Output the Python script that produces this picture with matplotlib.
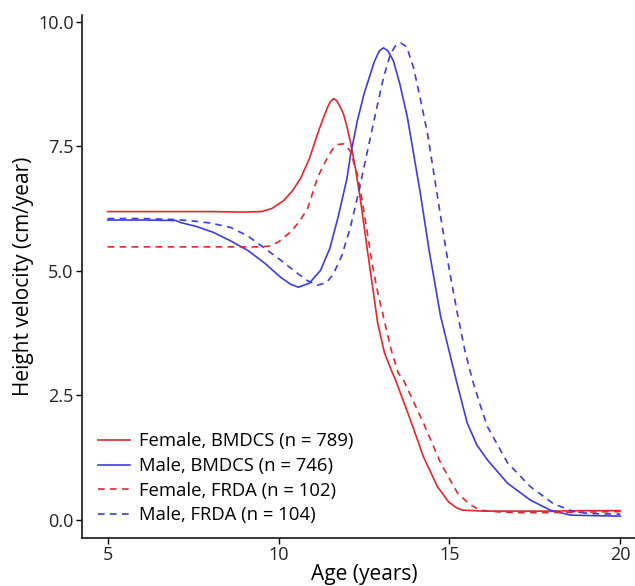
import matplotlib
matplotlib.use("Agg")
import matplotlib.pyplot as plt

plt.rcParams["font.family"] = ["Open Sans", "DejaVu Sans"]

# Curves (age in years, velocity in cm/year)
female_bmdcs_age = [5.0, 6.0, 7.0, 8.0, 9.0, 9.5, 9.8, 10.15, 10.4, 10.64, 10.9, 11.14, 11.3,
                    11.43, 11.52, 11.61, 11.7, 11.8, 11.9, 12.0, 12.1, 12.25, 12.4, 12.6, 12.78,
                    12.9, 13.1, 13.33, 13.42, 13.86, 14.24, 14.65, 14.97, 15.2, 15.38, 16.0,
                    17.0, 18.0, 19.0, 20.0]
female_bmdcs_vel = [6.19, 6.19, 6.19, 6.19, 6.18, 6.19, 6.25, 6.41, 6.6, 6.85, 7.25, 7.75, 8.05,
                    8.28, 8.4, 8.46, 8.42, 8.3, 8.15, 7.9, 7.6, 7.05, 6.41, 5.41, 4.54,
                    3.95, 3.35, 2.95, 2.81, 2.0, 1.26, 0.66, 0.36, 0.24, 0.19, 0.17,
                    0.17, 0.17, 0.18, 0.18]

male_bmdcs_age = [5.0, 6.0, 7.0, 7.13, 7.6, 8.1, 8.6, 9.1, 9.6, 10.06, 10.35, 10.58, 10.9, 11.23,
                  11.5, 11.75, 12.0, 12.1, 12.3, 12.5, 12.8, 12.95, 13.07, 13.2, 13.36, 13.55,
                  13.77, 14.15, 14.4, 14.74, 15.22, 15.52, 15.8, 16.11, 16.7, 17.37,
                  17.95, 18.54, 19.12, 20.0]
male_bmdcs_vel = [6.02, 6.02, 6.01, 5.97, 5.89, 5.77, 5.6, 5.41, 5.15, 4.87, 4.73, 4.67, 4.75, 5.01,
                  5.45, 6.1, 6.85, 7.3, 8.0, 8.55, 9.2, 9.42, 9.48, 9.42, 9.22, 8.75,
                  8.08, 6.55, 5.43, 4.09, 2.74, 1.94, 1.5, 1.2, 0.73, 0.39,
                  0.19, 0.09, 0.08, 0.07]

female_frda_age = [5.0, 6.0, 7.0, 8.0, 9.0, 9.5, 9.77, 10.0, 10.35, 10.6, 10.85, 11.14, 11.3,
                   11.45, 11.61, 11.75, 11.9, 12.0, 12.1, 12.3, 12.45, 12.6, 12.75, 12.92,
                   13.07, 13.3, 13.5, 13.65, 14.24, 14.74, 15.23, 15.6, 15.9, 16.5, 17.0,
                   18.0, 19.0, 20.0]
female_frda_vel = [5.48, 5.48, 5.48, 5.48, 5.48, 5.48, 5.5, 5.58, 5.78, 5.98, 6.25, 6.87, 7.1,
                   7.3, 7.47, 7.54, 7.55, 7.5, 7.4, 6.95, 6.4, 5.75, 5.1, 4.5,
                   4.07, 3.4, 2.95, 2.81, 1.94, 1.14, 0.54, 0.3, 0.19, 0.15, 0.14,
                   0.14, 0.15, 0.16]

male_frda_age = [5.0, 6.0, 7.0, 7.5, 8.0, 8.6, 9.1, 9.56, 10.05, 10.55, 10.85, 11.14, 11.4,
                 11.6, 11.85, 12.1, 12.35, 12.6, 12.85, 13.07, 13.27, 13.42, 13.57, 13.75,
                 13.95, 14.15, 14.36, 14.74, 15.0, 15.23, 15.45, 15.67, 15.9, 16.11, 16.7, 17.37,
                 18.04, 18.63, 19.12, 20.0]
male_frda_vel = [6.05, 6.05, 6.03, 6.0, 5.96, 5.87, 5.7, 5.47, 5.22, 4.95, 4.8, 4.71, 4.76,
                 4.93, 5.3, 5.87, 6.6, 7.4, 8.2, 8.88, 9.35, 9.52, 9.58, 9.5,
                 9.08, 8.45, 7.75, 6.1, 5.0, 4.15, 3.4, 2.81, 2.3, 1.87, 1.14, 0.66,
                 0.32, 0.16, 0.12, 0.11]

red = "#E3262C"
blue = "#3C3CE0"
dash = (0, (4, 3.2))

fig = plt.figure(figsize=(6.35, 5.86), dpi=100)
ax = fig.add_axes([82 / 635, 48 / 586, (646 - 82) / 635, (538 - 15) / 586])

ax.plot(female_bmdcs_age, female_bmdcs_vel, color=red, lw=1.2, label="Female, BMDCS (n = 789)")
ax.plot(male_bmdcs_age, male_bmdcs_vel, color=blue, lw=1.2, label="Male, BMDCS (n = 746)")
ax.plot(female_frda_age, female_frda_vel, color=red, lw=1.2, ls=dash, label="Female, FRDA (n = 102)")
ax.plot(male_frda_age, male_frda_vel, color=blue, lw=1.2, ls=dash, label="Male, FRDA (n = 104)")

ax.set_xlim(4.25, 20.75)
ax.set_ylim(-0.37, 10.14)
ax.set_xticks([5, 10, 15, 20])
ax.set_yticks([0, 2.5, 5, 7.5, 10])
ax.set_yticklabels(["0.0", "2.5", "5.0", "7.5", "10.0"])

for side in ["top", "right"]:
    ax.spines[side].set_visible(False)
for side in ["left", "bottom"]:
    ax.spines[side].set_linewidth(1.1)
ax.tick_params(length=4, width=1.0, labelsize=13, colors="black", labelcolor="#222222", pad=2)

ax.set_xlabel("Age (years)", fontsize=15, labelpad=0)
ax.set_ylabel("Height velocity (cm/year)", fontsize=15, labelpad=3)

ax.legend(loc="lower left", bbox_to_anchor=(0.008, 0.005), frameon=False, fontsize=13.3,
          handlelength=1.75, handletextpad=0.5, labelspacing=0.36, borderaxespad=0.2)

fig.savefig("out.png", dpi=100)
